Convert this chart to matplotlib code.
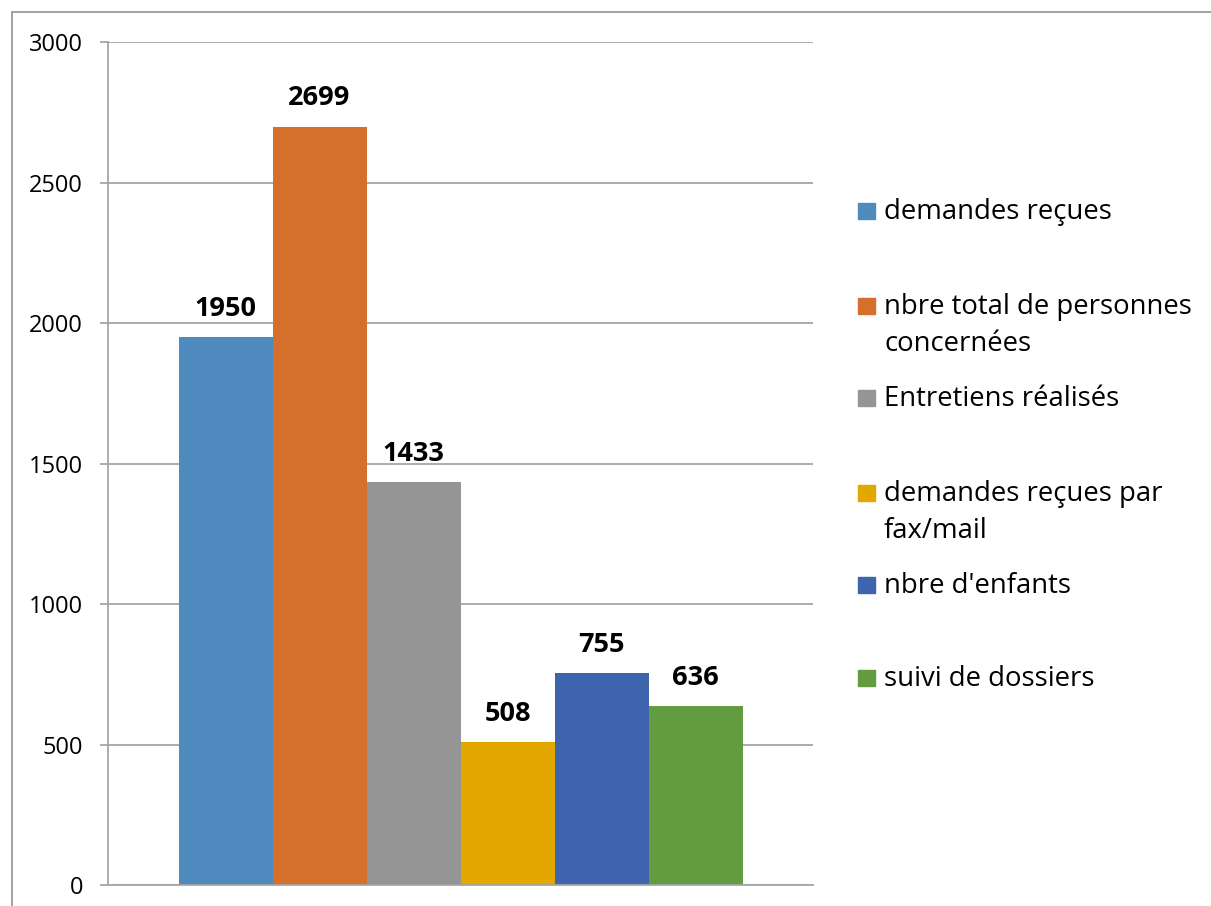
import matplotlib.pyplot as plt
from matplotlib.patches import Rectangle

plt.rcParams['font.family'] = ['Open Sans', 'DejaVu Sans']

labels = ["demandes reçues", "nbre total de personnes\nconcernées",
          "Entretiens réalisés", "demandes reçues par\nfax/mail",
          "nbre d'enfants", "suivi de dossiers"]
values = [1950, 2699, 1433, 508, 755, 636]
colors = ["#4f8abe", "#d4702b", "#959595", "#e2a800", "#3d64ac", "#629b40"]
yticks = [0, 500, 1000, 1500, 2000, 2500, 3000]

W, H = 1211, 906
fig = plt.figure(figsize=(W / 100, H / 100), dpi=100)
ax = fig.add_axes([108 / W, 1 - 885 / H, 705 / W, 843 / H])

n = len(values)
bw = 0.8 / n
for i, (v, c) in enumerate(zip(values, colors)):
    x = -0.4 + bw * (i + 0.5)
    ax.bar(x, v, width=bw, color=c, zorder=2)
    ax.annotate(str(v), (x, v), xytext=(0, 11), textcoords="offset points",
                ha="center", va="bottom", fontsize=19.5, fontweight="bold")

ax.set_xlim(-0.5, 0.5)
ax.set_ylim(0, 3000)
ax.set_yticks(yticks)
ax.set_xticks([])
ax.tick_params(axis="y", length=6, color="#a6a6a6", width=1.3,
               labelsize=17, pad=12)
ax.grid(axis="y", color="#a6a6a6", linewidth=1.3, zorder=0)
for s in ["top", "right"]:
    ax.spines[s].set_visible(False)
for s in ["left", "bottom"]:
    ax.spines[s].set_color("#a6a6a6")
    ax.spines[s].set_linewidth(1.3)

# legend drawn by hand: one baseline per entry, wrapped lines 37 px apart
baselines = [219, 314, 406, 501, 593, 686]
for y, lab, c in zip(baselines, labels, colors):
    fig.patches.append(Rectangle((858 / W, 1 - y / H), 17 / W, 16 / H,
                                 transform=fig.transFigure, color=c))
    for k, line in enumerate(lab.split("\n")):
        fig.text(884 / W, 1 - (y + 37 * k) / H, line, fontsize=19.8,
                 va="baseline", transform=fig.transFigure)

# chart frame
fig.patches.append(Rectangle((12 / W, -0.05), 1.1, 1 - 12 / H + 0.05,
                             transform=fig.transFigure, fill=False,
                             edgecolor="#9a9a9a", linewidth=1.3))

fig.savefig("out.png", dpi=100)
